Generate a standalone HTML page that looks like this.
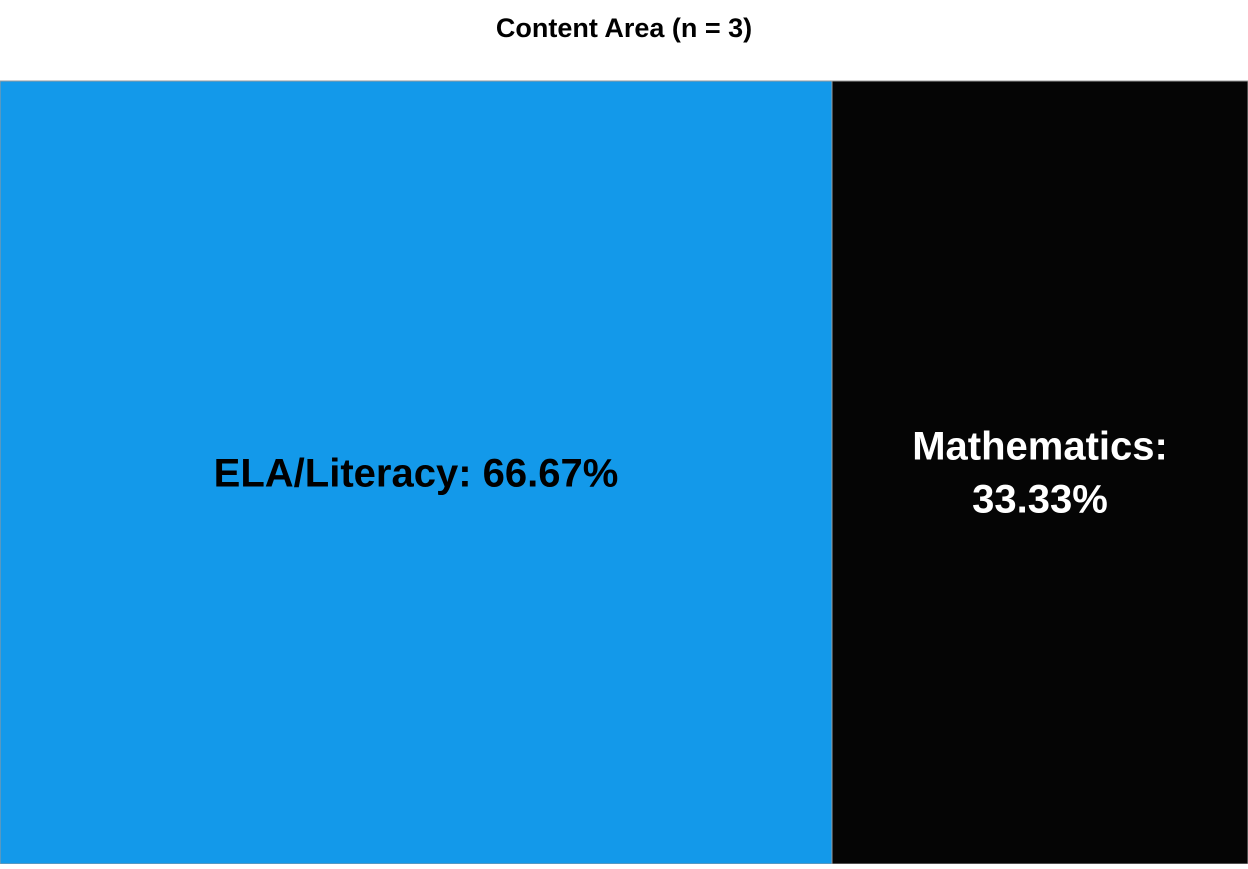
<!DOCTYPE html>
<html><head><meta charset="utf-8"><style>
body{margin:0;width:1248px;height:864px;background:#fff;overflow:hidden}
svg text{font-family:"Liberation Sans",sans-serif;font-weight:bold}
</style></head><body>
<svg id="chart" width="1248" height="864">
<text x="624" y="37" text-anchor="middle" font-size="27" fill="#000">Content Area (n = 3)</text>
<g id="tiles"></g>
</svg>
<script>
const categories=["ELA/Literacy","Mathematics"];
const values=[2,1];
const labels=["66.67%","33.33%"];
const colors=["#1399EA","#050505"];
const textColors=["#000","#fff"];
const X0=0,X1=1248,Y0=81,Y1=864;
const total=values.reduce((a,b)=>a+b,0);
const xs=v=>X0+(X1-X0)*v/total;
const g=document.getElementById('tiles');
const NS="http://www.w3.org/2000/svg";
let cum=0;
values.forEach((v,i)=>{
  const x=xs(cum),w=xs(cum+v)-x;cum+=v;
  const r=document.createElementNS(NS,'rect');
  
  
  r.setAttribute('x',x);r.setAttribute('y',Y0);r.setAttribute('width',w);r.setAttribute('height',Y1-Y0);
  r.setAttribute('fill',colors[i]);r.setAttribute('stroke','#999');r.setAttribute('stroke-width','1');
  g.appendChild(r);
  const t=document.createElementNS(NS,'text');
  
  
  t.setAttribute('text-anchor','middle');t.setAttribute('font-size','40');t.setAttribute('fill',textColors[i]);
  const cx=x+w/2,cy=(Y0+Y1)/2;
  const full=categories[i]+": "+labels[i];
  if(full.length*22<w-20){
    t.setAttribute('x',cx);t.setAttribute('y',cy+14);t.textContent=full;
  }else{
    const a=document.createElementNS(NS,'tspan');a.setAttribute('x',cx);a.setAttribute('y',cy-13);a.textContent=categories[i]+":";
    const b=document.createElementNS(NS,'tspan');b.setAttribute('x',cx);b.setAttribute('y',cy+40);b.textContent=labels[i];
    t.appendChild(a);t.appendChild(b);
  }
  g.appendChild(t);
});
</script>
</body></html>
